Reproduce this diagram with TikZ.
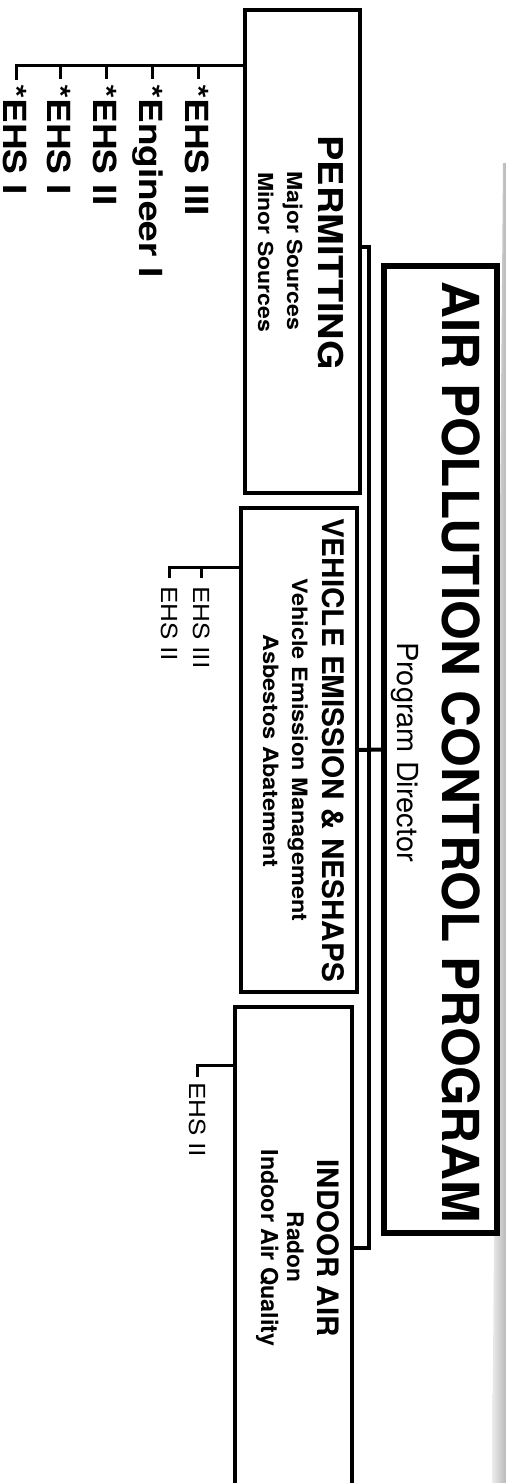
\documentclass[tikz,border=0pt]{standalone}
\usepackage{fontspec}
\setmainfont{TeX Gyre Heros}
\usepackage{graphicx}
\newcommand{\mytxt}[3]{\fontsize{#1}{#1}\selectfont\scalebox{1}[#2]{#3}}
\begin{document}
\begin{tikzpicture}[x=1pt,y=-1pt,
  box/.style={draw, line width=4.5pt, inner sep=0pt, outer sep=0pt},
  txt/.style={rotate=-90, inner sep=0pt, outer sep=0pt, anchor=base},
  lbl/.style={rotate=-90, inner sep=0pt, outer sep=0pt, anchor=base west},
  link/.style={line width=4pt},
  sub/.style={line width=3pt}]
\useasboundingbox (0,0) rectangle (506,1483);
\fill[white] (0,0) rectangle (506,1483);
\clip (0,0) rectangle (506,1483);
\shade[left color=gray!15, right color=gray!55] (503,163) -- (506,163) -- (506,1483) -- (492,1483) -- cycle;

% boxes
\node[box, line width=6pt, minimum width=113pt, minimum height=967pt] (title) at (440.5,749.5) {};
\node[box, minimum width=115pt, minimum height=483pt] (perm) at (302.5,251.5) {};
\node[box, minimum width=116pt, minimum height=484pt] (veh) at (299,750) {};
\node[box, minimum width=117pt, minimum height=493pt] (indoor) at (293.5,1253.5) {};

% box texts
\node[txt] (tt) at (442,752) {\mytxt{51}{1}{\bfseries AIR POLLUTION CONTROL PROGRAM}};
\node[txt] (pdir) at (397,752) {\mytxt{29}{1}{Program Director}};
\node[txt] (pt) at (318,253) {\mytxt{38}{0.9}{\bfseries PERMITTING}};
\node[txt] (p1) at (287,251) {\mytxt{23}{0.9}{\bfseries Major Sources}};
\node[txt] (p2) at (258,252) {\mytxt{23}{0.9}{\bfseries Minor Sources}};
\node[txt] (vt) at (322,750) {\mytxt{29.7}{1}{\bfseries VEHICLE EMISSION \& NESHAPS}};
\node[txt] (v1) at (292,750) {\mytxt{23.5}{0.9}{\bfseries Vehicle Emission Management}};
\node[txt] (v2) at (263,751) {\mytxt{23.5}{0.9}{\bfseries Asbestos Abatement}};
\node[txt] (it) at (317,1248) {\mytxt{29.5}{1}{\bfseries INDOOR AIR}};
\node[txt] (i1) at (287,1247) {\mytxt{22.8}{1}{\bfseries Radon}};
\node[txt] (i2) at (261,1248) {\mytxt{23.3}{1}{\bfseries Indoor Air Quality}};

% staff labels
\node[lbl] (e1) at (185,84) {\mytxt{37}{0.86}{\bfseries *EHS III}};
\node[lbl] (e2) at (139,84) {\mytxt{37}{0.86}{\bfseries *Engineer I}};
\node[lbl] (e3) at (93,84) {\mytxt{37}{0.86}{\bfseries *EHS II}};
\node[lbl] (e4) at (47,84) {\mytxt{37}{0.86}{\bfseries *EHS I}};
\node[lbl] (e5) at (4,84) {\mytxt{37}{0.86}{\bfseries *EHS I}};
\node[lbl] (ve1) at (193,586) {\mytxt{26}{0.85}{EHS III}};
\node[lbl] (ve2) at (161,586) {\mytxt{26}{0.85}{EHS II}};
\node[lbl] (ie1) at (189,1082) {\mytxt{26}{0.85}{EHS II}};

% main connector
\coordinate (ctop) at (369,247);
\coordinate (cbot) at (369,1248);
\draw[link] (perm.east |- ctop) -- (ctop) -- (cbot) -- (indoor.east |- cbot);
\draw[link] (veh.east) -- (title.west);

% permitting staff
\coordinate (pbus) at (0,65);
\coordinate (pa) at (198,79);
\coordinate (pb) at (152,79);
\coordinate (pc) at (106,79);
\coordinate (pd) at (60,79);
\coordinate (pe) at (16,80);
\draw[sub] (perm.west |- pbus) -| (pe);
\foreach \c in {pa,pb,pc,pd} \draw[sub] (\c |- pbus) -- (\c);

% vehicle staff
\coordinate (vbus) at (0,567);
\coordinate (va) at (201,578);
\coordinate (vb) at (169,578);
\draw[sub] (veh.west |- vbus) -| (vb);
\draw[sub] (va |- vbus) -- (va);

% indoor staff
\coordinate (ibus) at (0,1065);
\coordinate (ia) at (197,1077);
\draw[sub] (indoor.west |- ibus) -| (ia);
\end{tikzpicture}
\end{document}
